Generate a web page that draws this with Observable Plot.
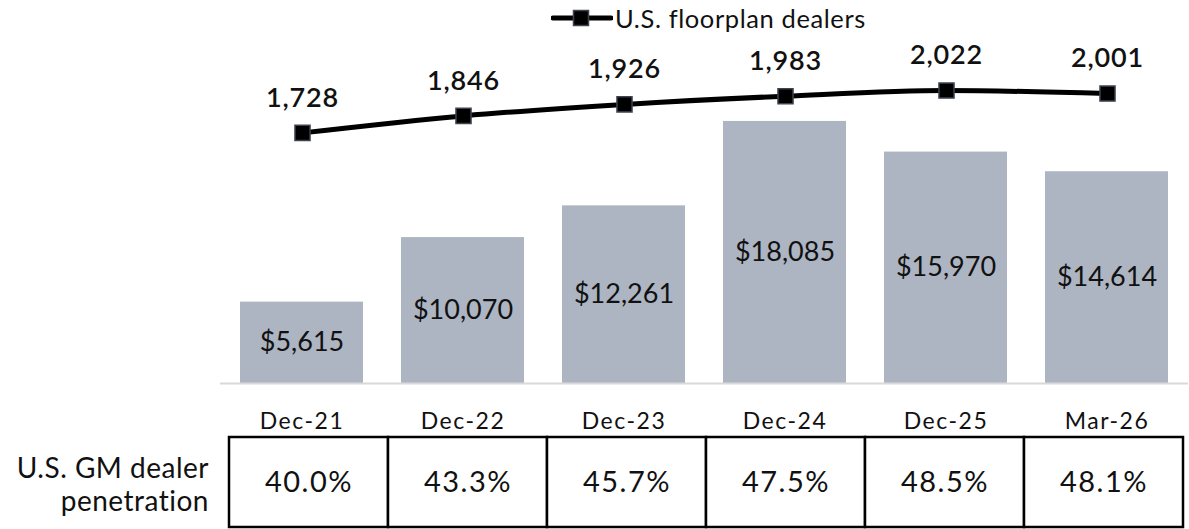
<!DOCTYPE html>
<html>
<head>
<meta charset="utf-8">
<script src="https://cdn.jsdelivr.net/npm/d3@7"></script>
<script src="https://cdn.jsdelivr.net/npm/@observablehq/plot@0.6"></script>
<style>
  html, body { margin: 0; padding: 0; background: #fff; }
  #wrap { position: relative; width: 1189px; height: 529px; font-family: Lato, sans-serif; color: #111; overflow: hidden; }
  .layer { position: absolute; left: 0; top: 0; }
  .layer svg { overflow: visible; }
  #legend { position: absolute; top: 3px; left: 551px; display: flex; align-items: center; font-size: 25.5px; line-height: 30px; white-space: nowrap; letter-spacing: 0.6px; }
  .rl { position: absolute; right: 980px; text-align: right; font-size: 28px; line-height: 32px; height: 32px; white-space: nowrap; letter-spacing: 0.5px; }
  .spaced text { letter-spacing: 1.5px; }
</style>
</head>
<body>
<div id="wrap">
  <div id="bars" class="layer"></div>
  <div id="line" class="layer"></div>
  <div id="table" class="layer" style="top:436px"></div>
  <div id="legend">
    <svg width="62" height="20"><line x1="2" y1="10" x2="60" y2="10" stroke="#000" stroke-width="5" stroke-linecap="round"/><rect x="22.5" y="2.5" width="15" height="15" fill="#000" stroke="#3d4450" stroke-width="1.5"/></svg>
    <span style="margin-left:2px">U.S. floorplan dealers</span>
  </div>
  <div class="rl" style="top:451px">U.S. GM dealer</div>
  <div class="rl" style="top:484px">penetration</div>
</div>
<script>
const categories = ["Dec-21", "Dec-22", "Dec-23", "Dec-24", "Dec-25", "Mar-26"];
const floorplanLoans = [5615, 10070, 12261, 18085, 15970, 14614];
const floorplanDealers = [1728, 1846, 1926, 1983, 2022, 2001];
const penetration = ["40.0%", "43.3%", "45.7%", "47.5%", "48.5%", "48.1%"];

const rows = categories.map((c, i) => ({
  date: c,
  loans: floorplanLoans[i],
  dealers: floorplanDealers[i],
  pen: penetration[i]
}));

const fmt = d3.format(",");
const font = "Lato, sans-serif";
const xScale = { domain: categories, paddingInner: 0.234, paddingOuter: 0.117, axis: null };

const barsPlot = Plot.plot({
  width: 1189, height: 440,
  marginLeft: 220, marginRight: 1, marginTop: 0, marginBottom: 57,
  style: { fontFamily: font, overflow: "visible" },
  x: xScale,
  y: { domain: [0, 26432], axis: null },
  marks: [
    Plot.barY(rows, { x: "date", y: "loans", fill: "#adb5c2" }),
    Plot.ruleY([0], { stroke: "#d9d9d9", strokeWidth: 2 }),
    Plot.text(rows, { x: "date", y: d => d.loans / 2, text: d => "$" + fmt(d.loans), fontSize: 27, fill: "#111" }),
    Plot.text(rows, { x: "date", y: 0, dy: 38, text: "date", fontSize: 23, fill: "#111", className: "spaced" })
  ]
});
document.getElementById("bars").appendChild(barsPlot);

const linePlot = Plot.plot({
  width: 1189, height: 440,
  marginLeft: 220, marginRight: 1, marginTop: 0, marginBottom: 59,
  style: { fontFamily: font, overflow: "visible" },
  x: xScale,
  y: { domain: [0, 2648], axis: null },
  marks: [
    Plot.line(rows, { x: "date", y: "dealers", stroke: "#000", strokeWidth: 5, curve: "monotone-x" }),
    Plot.dot(rows, { x: "date", y: "dealers", symbol: "square", r: 8.5, fill: "#000", stroke: "#3d4450", strokeWidth: 1.5 }),
    Plot.text(rows, { x: "date", y: "dealers", dy: -35, text: d => fmt(d.dealers), fontSize: 27, fontWeight: 600, fill: "#111", className: "slight" })
  ]
});
document.getElementById("line").appendChild(linePlot);
d3.selectAll(".slight text").style("letter-spacing", "0.8px");

const tablePlot = Plot.plot({
  width: 1189, height: 92,
  marginLeft: 227, marginRight: 5, marginTop: 1, marginBottom: 1,
  style: { fontFamily: font, overflow: "visible" },
  x: { domain: categories, padding: 0, axis: null },
  marks: [
    Plot.cell(rows, { x: "date", fill: "#fff", stroke: "#000", strokeWidth: 2.5 }),
    Plot.text(rows, { x: "date", frameAnchor: "middle", text: "pen", fontSize: 29, fill: "#111", className: "spaced" })
  ]
});
document.getElementById("table").appendChild(tablePlot);
</script>
</body>
</html>
